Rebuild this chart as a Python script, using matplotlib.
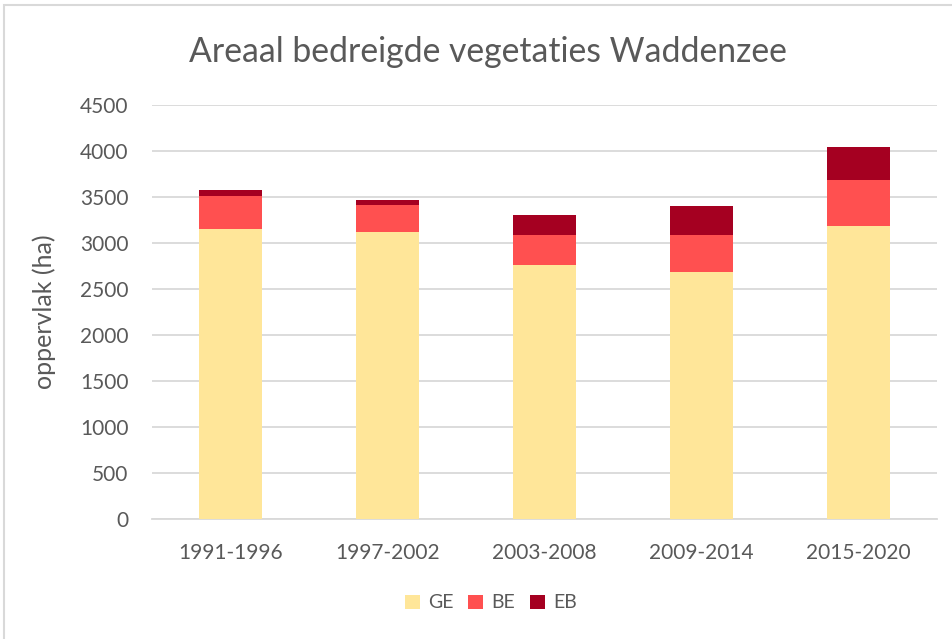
import matplotlib
matplotlib.use("Agg")
import matplotlib.pyplot as plt
import numpy as np
from matplotlib.patches import Rectangle

categories = ["1991-1996", "1997-2002", "2003-2008", "2009-2014", "2015-2020"]
GE = [3150, 3120, 2760, 2680, 3190]
BE = [360, 290, 330, 410, 500]
EB = [70, 60, 210, 310, 350]
series_names = ["GE", "BE", "EB"]
colors = ["#FFE699", "#FF5050", "#A50021"]
yticks = [0, 500, 1000, 1500, 2000, 2500, 3000, 3500, 4000, 4500]

plt.rcParams['font.family'] = ['Lato', 'DejaVu Sans']
txt = "#595959"

fig = plt.figure(figsize=(9.52, 6.39), dpi=100)
fig.patches.append(Rectangle((4/952, -0.1), 1.2, 1 - 5/639 + 0.1, transform=fig.transFigure,
                             facecolor="white", edgecolor="#d9d9d9", lw=1.5, zorder=-1))
ax = fig.add_axes([152/952, 1 - 519/639, 785/952, (519 - 105)/639])

x = np.arange(len(categories))
bottom = np.zeros(len(categories))
for vals, name, c in zip([GE, BE, EB], series_names, colors):
    ax.bar(x, vals, width=0.4, bottom=bottom, color=c, label=name, zorder=3)
    bottom += np.array(vals)

ax.set_xlim(-0.5, len(categories) - 0.5)
ax.set_ylim(0, 4500)
ax.set_yticks(yticks)
ax.set_yticklabels([str(t) for t in yticks])
ax.set_xticks(x)
ax.set_xticklabels(categories)
ax.grid(axis="y", color="#d9d9d9", lw=1.3, zorder=0)
for s in ["top", "right", "left"]:
    ax.spines[s].set_visible(False)
ax.spines["bottom"].set_color("#d9d9d9")
ax.spines["bottom"].set_linewidth(1.3)
ax.tick_params(axis="both", length=0, colors=txt, labelsize=15)
ax.tick_params(axis="x", pad=17)
ax.tick_params(axis="y", pad=17)
ax.set_ylabel("oppervlak (ha)", color=txt, fontsize=18, labelpad=17)

fig.text(488/952, 1 - 52/639, "Areaal bedreigde vegetaties Waddenzee", ha="center", va="center",
         fontsize=24.3, color=txt)

leg = fig.legend(loc="center", bbox_to_anchor=(491/952, 1 - 603/639), ncol=3, frameon=False,
                 fontsize=14, handlelength=0.75, handleheight=0.75, handletextpad=0.45, columnspacing=0.75)
for t in leg.get_texts():
    t.set_color(txt)

fig.savefig("out.png", dpi=100)
